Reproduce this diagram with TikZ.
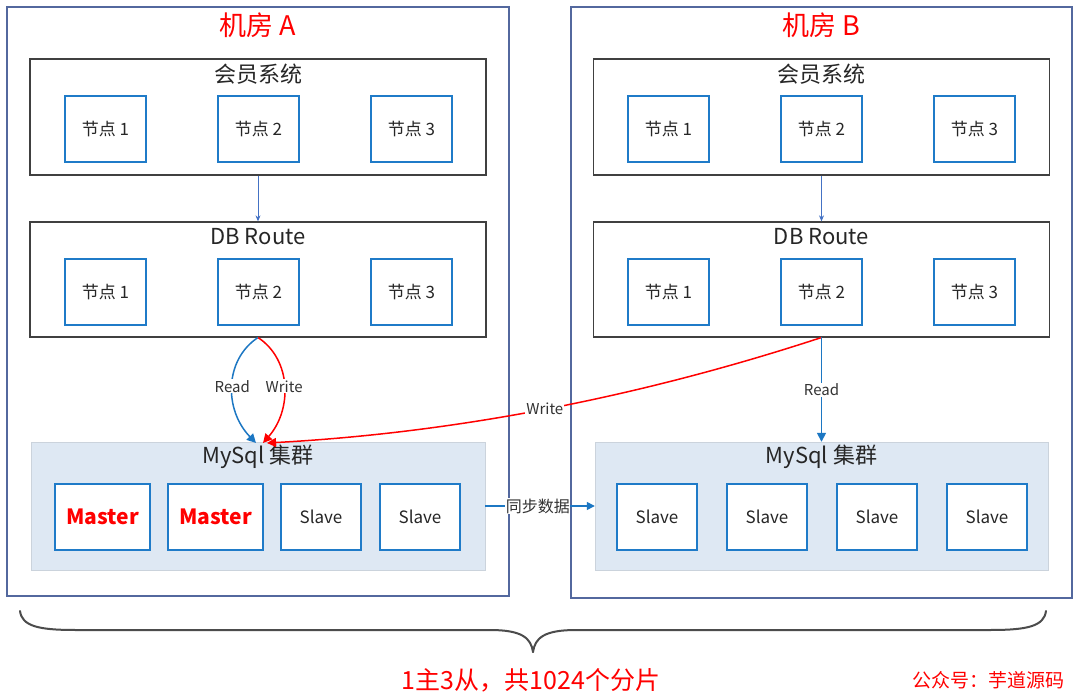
\documentclass[tikz,border=0pt]{standalone}
\usepackage{fontspec}
\setmainfont{Noto Sans CJK SC}
\usetikzlibrary{arrows.meta,calc}
\definecolor{framec}{HTML}{53689E}
\definecolor{nodeblue}{HTML}{1F7BC8}
\definecolor{clusterfill}{HTML}{DEE8F3}
\definecolor{redc}{HTML}{FF0000}
\definecolor{linkc}{HTML}{4472C4}
\definecolor{readc}{HTML}{1C77C3}
\definecolor{sysc}{HTML}{404040}
\begin{document}
\begin{tikzpicture}[x=1pt,y=-1pt,
  room/.style={draw=framec, line width=1.3pt, minimum width=502pt, minimum height=589pt, inner sep=0pt},
  roomtitle/.style={text=redc, font=\fontsize{27}{30}\selectfont, inner sep=0pt},
  sysbox/.style={draw=sysc, line width=1.3pt, fill=white, minimum width=456pt, minimum height=116pt, inner sep=0pt},
  systitle/.style={text=black!85, font=\fontsize{22}{25}\selectfont, inner sep=0pt},
  cluster/.style={fill=clusterfill, draw=clusterfill!80!gray, line width=0.4pt, minimum width=454pt, minimum height=128pt, inner sep=0pt},
  nbox/.style={draw=nodeblue, line width=1.5pt, fill=white, minimum width=81pt, minimum height=66pt, inner sep=0pt, text=black!85, font=\fontsize{17}{20}\selectfont},
  mbox/.style={nbox, minimum width=95pt, text=redc, font=\fontsize{21}{24}\selectfont\bfseries},
  sbox/.style={nbox, minimum width=80pt},
  lbl/.style={fill=white, inner sep=1pt, text=black!80, font=\fontsize{15}{17}\selectfont},
  link/.style={draw=linkc, line width=0.8pt, -{Stealth[length=6pt,width=5pt]}},
  readarrow/.style={draw=readc, line width=1.5pt, -{Triangle[length=9pt,width=9pt]}},
  writearrow/.style={draw=redc, line width=1.5pt, -{Triangle[length=9pt,width=9pt]}},
  brace/.style={draw=black!70, line width=2pt, line cap=round}
]
\useasboundingbox (0,0) rectangle (1080,700);
\fill[white] (0,0) rectangle (1080,700);

% rooms
\node[room] (roomA) at (258,301.5) {};
\node[room, minimum width=501pt, minimum height=591pt] (roomB) at (821.5,302.5) {};
\node[roomtitle] (tA) at (258,25) {机房 A};
\node[roomtitle] (tB) at (821.5,25) {机房 B};

% member systems
\node[sysbox] (sysA) at (258,117) {};
\node[systitle] (sysAt) at (258,74) {会员系统};
\node[nbox] (sA1) at (105.5,129) {节点 1};
\node[nbox] (sA2) at (258.5,129) {节点 2};
\node[nbox] (sA3) at (411.5,129) {节点 3};

\node[sysbox] (sysB) at (821.5,117) {};
\node[systitle] (sysBt) at (821.5,74) {会员系统};
\node[nbox] (sB1) at (668.5,129) {节点 1};
\node[nbox] (sB2) at (821.5,129) {节点 2};
\node[nbox] (sB3) at (974.5,129) {节点 3};

% DB route
\node[sysbox, minimum height=115pt] (dbA) at (258,279.5) {};
\node[systitle] (dbAt) at (258,237) {DB Route};
\node[nbox] (dA1) at (105.5,292) {节点 1};
\node[nbox] (dA2) at (258.5,292) {节点 2};
\node[nbox] (dA3) at (411.5,292) {节点 3};

\node[sysbox, minimum height=115pt] (dbB) at (821.5,279.5) {};
\node[systitle] (dbBt) at (821.5,237) {DB Route};
\node[nbox] (dB1) at (668.5,292) {节点 1};
\node[nbox] (dB2) at (821.5,292) {节点 2};
\node[nbox] (dB3) at (974.5,292) {节点 3};

% clusters
\node[cluster] (clA) at (258,506) {};
\node[systitle] (clAt) at (258,457) {MySql 集群};
\node[mbox] (mA1) at (102.5,517) {Master};
\node[mbox] (mA2) at (215.5,517) {Master};
\node[sbox] (mA3) at (321,517) {Slave};
\node[sbox] (mA4) at (420,517) {Slave};

\node[cluster, minimum width=453pt] (clB) at (821.5,506) {};
\node[systitle] (clBt) at (821.5,457) {MySql 集群};
\node[sbox] (mB1) at (657,517) {Slave};
\node[sbox] (mB2) at (767,517) {Slave};
\node[sbox] (mB3) at (877,517) {Slave};
\node[sbox] (mB4) at (987,517) {Slave};

% connectors
\draw[link] (sysA.south) -- (dbA.north);
\draw[link] (sysB.south) -- (dbB.north);

\coordinate (inA1) at (256,443);
\coordinate (inA2) at (263,443);
\coordinate (inA3) at (267,443);
\coordinate (dA) at (258,337.5);
\coordinate (dB) at (821.5,337.5);

\draw[readarrow] (dA) .. controls (224,360) and (224,410) .. node[lbl, pos=0.5] {Read} (inA1);
\draw[writearrow] (dA) .. controls (292,360) and (292,410) .. node[lbl, pos=0.5] {Write} (inA2);
\draw[writearrow] (dB) .. controls (637,398) and (453,433) .. node[lbl, pos=0.5] {Write} (inA3);
\draw[readarrow] (dB) -- node[lbl, pos=0.5] {Read} (clB.north);

\draw[readarrow, line width=1.5pt, -{Triangle[length=8pt,width=8pt]}] (clA.east) -- node[lbl, pos=0.48, font=\fontsize{16}{18}\selectfont, inner sep=0.5pt] {同步数据} (clB.west);

% brace
\draw[brace] (20,611) .. controls (22,626) and (38,630) .. (75,630) -- (490,630) .. controls (522,630) and (531,638) .. (533,652);
\draw[brace] (1046,611) .. controls (1044,626) and (1028,630) .. (991,630) -- (576,630) .. controls (544,630) and (535,638) .. (533,652);

\node[text=redc, font=\fontsize{25}{28}\selectfont, inner sep=0pt] (sum) at (531,680) {1主3从，共1024个分片};
\node[text=redc, font=\fontsize{19}{22}\selectfont, inner sep=0pt] (wm) at (988,680) {公众号：芋道源码};
\end{tikzpicture}
\end{document}
